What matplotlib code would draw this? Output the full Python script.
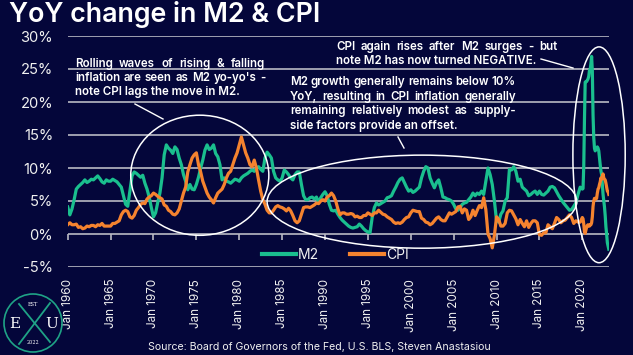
import numpy as np
import pandas as pd
import matplotlib
matplotlib.use("Agg")
import matplotlib.pyplot as plt
from matplotlib.patches import Ellipse
from matplotlib.lines import Line2D

# ---------------- data ----------------
quarter_start = "1960-01-01"
quarter_end = "2019-10-01"
month_start = "2020-01-01"
month_end = "2023-02-01"

m2_quarterly = [
    4.1, 2.9, 3.8, 5.2,   6.8, 7.2, 7.5, 7.8,   8.2, 7.8, 8.0, 8.3,   8.2, 8.5, 8.8, 8.4,
    7.9, 7.7, 8.2, 8.0,   8.0, 8.3, 8.1, 7.9,   7.5, 7.1, 5.8, 4.5,   4.2, 6.5, 8.8, 9.4,
    9.2, 8.9, 8.6, 8.9,   7.7, 6.8, 5.6, 4.0,   2.6, 3.2, 4.8, 6.2,   8.5, 12.0, 13.5, 13.0,
    12.7, 12.2, 13.2, 12.8,   11.5, 10.5, 9.0, 8.0,   6.7, 7.5, 6.8, 6.7,   7.5, 8.6, 10.0, 11.2,
    12.7, 13.5, 12.8, 13.0,   13.5, 12.2, 11.7, 10.5,   8.2, 8.5, 8.0, 7.9,   7.7, 8.0, 8.3, 8.2,
    8.0, 8.5, 8.8, 9.0,   9.2, 9.5, 9.7, 9.5,   10.0, 10.2, 9.8, 9.5,   11.5, 12.4, 12.0, 11.5,
    9.5, 8.5, 8.2, 8.0,   8.5, 9.7, 9.4, 9.0,   8.5, 8.2, 9.0, 9.4,   9.4, 7.5, 5.8, 5.2,
    5.2, 5.5, 5.6, 5.3,   5.6, 4.8, 5.5, 6.0,   6.4, 5.8, 4.5, 3.6,   3.5, 3.6, 3.0, 2.5,
    2.1, 1.8, 1.5, 1.2,   1.0, 0.9, 1.0, 1.1,   1.5, 1.2, 0.8, 0.5,   0.3, 0.2, 2.5, 4.0,
    4.7, 4.4, 4.6, 4.8,   5.0, 5.5, 5.6, 5.8,   6.5, 7.1, 7.8, 8.3,   8.5, 7.8, 7.1, 6.5,
    6.7, 6.3, 6.5, 6.8,   7.1, 8.5, 9.5, 10.2,   10.0, 8.5, 7.7, 7.0,   7.8, 8.2, 7.0, 5.6,
    5.5, 5.3, 5.2, 5.0,   4.5, 3.8, 3.6, 4.0,   4.5, 4.7, 4.8, 5.2,   5.6, 6.2, 5.8, 6.2,
    6.0, 6.5, 6.0, 8.0,   10.0, 9.0, 7.5, 5.0,   2.0, 1.8, 3.0, 3.5,   5.0, 5.5, 9.8, 9.7,
    10.2, 9.5, 8.0, 8.3,   7.1, 6.8, 6.5, 5.8,   6.0, 6.3, 6.5, 6.0,   6.5, 6.0, 5.9, 6.2,
    6.5, 7.1, 7.2, 7.0,   6.4, 5.8, 5.3, 4.8,   4.4, 4.0, 3.6, 3.7,   4.2, 4.7, 6.0, 7.1,
]
cpi_quarterly = [
    1.4, 1.7, 1.4, 1.4,   1.5, 1.0, 1.1, 0.8,   0.9, 1.2, 1.1, 1.3,   1.3, 1.1, 1.4, 1.3,
    1.6, 1.2, 1.2, 1.2,   1.2, 1.6, 1.6, 1.8,   2.0, 2.9, 3.4, 3.6,   3.4, 2.6, 2.4, 2.8,
    3.6, 4.0, 4.5, 4.7,   4.6, 5.3, 5.6, 5.8,   6.2, 6.0, 5.7, 5.5,   5.3, 4.4, 4.2, 3.6,
    3.4, 3.0, 2.9, 3.2,   3.8, 5.0, 6.2, 7.1,   9.4, 10.5, 11.5, 12.0,   12.3, 10.5, 9.4, 8.0,
    7.1, 6.2, 5.6, 5.2,   4.7, 5.5, 6.2, 6.5,   6.8, 7.5, 8.5, 9.2,   9.5, 10.5, 11.5, 12.3,
    13.5, 14.7, 13.5, 12.3,   11.5, 10.5, 10.2, 11.2,   10.0, 8.2, 6.5, 5.2,   4.5, 3.6, 3.2, 3.2,
    3.6, 4.1, 4.3, 4.1,   4.0, 3.8, 3.5, 3.9,   3.5, 2.8, 2.0, 1.7,   2.0, 3.0, 4.0, 4.1,
    4.1, 4.0, 4.2, 4.4,   4.7, 4.6, 5.0, 5.2,   5.0, 5.6, 5.8, 6.2,   5.8, 5.0, 3.8, 2.9,
    3.2, 3.2, 3.0, 3.0,   3.1, 3.0, 2.6, 2.7,   2.5, 2.5, 2.8, 2.8,   3.2, 3.0, 2.8, 3.2,
    3.2, 3.6, 3.3, 3.0,   2.9, 2.6, 2.4, 2.2,   1.8, 1.6, 1.7, 1.6,   1.8, 2.2, 2.5, 2.6,
    3.2, 3.6, 3.5, 3.4,   3.4, 2.4, 2.2, 1.8,   1.7, 1.4, 1.6, 2.0,   2.4, 2.6, 2.2, 2.0,
    2.0, 2.6, 3.2, 3.0,   3.2, 3.4, 4.1, 4.2,   3.2, 3.8, 3.6, 2.2,   2.6, 3.6, 2.8, 3.6,
    4.3, 4.0, 5.5, 3.7,   0.0, -0.7, -2.1, -0.2,   2.6, 2.2, 1.2, 1.2,   1.6, 3.2, 3.6, 3.5,
    2.9, 2.3, 1.4, 2.2,   1.6, 1.1, 2.0, 1.0,   1.6, 2.0, 2.0, 1.7,   -0.1, -0.2, 0.2, 0.2,
    1.4, 1.1, 0.8, 1.6,   2.5, 2.2, 1.7, 2.0,   2.1, 2.5, 2.9, 2.5,   1.6, 2.0, 1.8, 1.8,
]
m2_monthly = [
    6.8, 6.9, 10.3, 17.4, 23.0, 23.1, 23.1, 23.3, 23.5, 23.9, 24.8, 24.9,
    25.8, 26.9, 24.7, 18.0, 14.6, 13.0, 12.6, 12.8, 13.0, 13.2, 13.0, 12.6,
    11.5, 10.5, 9.6, 9.0, 7.5, 6.0, 5.0, 4.1, 2.8, 1.1, 0.0, -1.3,
    -1.8, -2.3,
]
cpi_monthly = [
    2.5, 2.3, 1.5, 0.3, 0.1, 0.6, 1.0, 1.3, 1.4, 1.2, 1.2, 1.4,
    1.4, 1.7, 2.6, 4.2, 5.0, 5.4, 5.4, 5.3, 5.4, 6.2, 6.8, 7.0,
    7.5, 7.9, 8.5, 8.3, 8.6, 9.1, 8.5, 8.3, 8.2, 7.7, 7.1, 6.5,
    6.4, 6.0,
]
tick_years = list(range(1960, 2021, 5))
tick_labels = [f"Jan {y}" for y in tick_years]
y_ticks = [-5, 0, 5, 10, 15, 20, 25, 30]
y_labels = [f"{v}%" for v in y_ticks]

title = "YoY change in M2 & CPI"
note1 = ["Rolling waves of rising & falling",
         "inflation are seen as M2 yo-yo's -",
         "note CPI lags the move in M2."]
note2 = ["M2 growth generally remains below 10%",
         "YoY, resulting in CPI inflation generally",
         "remaining relatively modest as supply-",
         "side factors provide an offset."]
note3 = ["CPI again rises after M2 surges - but",
         "note M2 has now turned NEGATIVE."]
source = "Source: Board of Governors of the Fed, U.S. BLS, Steven Anastasiou"

# ---------------- build series ----------------
dates = pd.date_range(quarter_start, quarter_end, freq="QS").append(
    pd.date_range(month_start, month_end, freq="MS"))
xdec = dates.year + (dates.month - 1) / 12.0
m2 = np.array(m2_quarterly + m2_monthly)
cpi = np.array(cpi_quarterly + cpi_monthly)

# ---------------- style ----------------
BG = "#04063a"
GREEN = "#1abf8e"
ORANGE = "#f5832f"
GRID = "#b9b9c4"
TXT = "#f0f0f0"
FONT = ["Inter", "DejaVu Sans"]
plt.rcParams["font.family"] = FONT

W, H = 633, 355
fig = plt.figure(figsize=(W / 100, H / 100), dpi=100, facecolor=BG)

def fx(px):
    return px / W

def fy(py):
    return 1 - py / H

ax = fig.add_axes([fx(67.7), fy(267), fx(609) - fx(67.7), fy(36) - fy(267)])
ax.set_facecolor(BG)
ax.set_xlim(1960.0, 2023.11)
ax.set_ylim(-5, 30)

ax.plot(xdec, m2, color=GREEN, lw=2.3, label="M2", zorder=3, solid_joinstyle="round")
ax.plot(xdec, cpi, color=ORANGE, lw=2.3, label="CPI", zorder=4, solid_joinstyle="round")

for s in ax.spines.values():
    s.set_visible(False)
ax.set_yticks(y_ticks)
ax.set_yticklabels(y_labels)
ax.tick_params(axis="y", length=0, pad=10.5, labelsize=10.6, labelcolor=TXT)
ax.yaxis.grid(True, color=GRID, lw=1.2)
ax.set_axisbelow(True)

ax.set_xticks(tick_years)
ax.set_xticklabels(tick_labels, rotation=90)
ax.tick_params(axis="x", length=0, pad=8.5, labelsize=8.4, labelcolor=TXT)

# ticks sitting on the 0% line
sec = ax.secondary_xaxis(location=(0 - (-5)) / 35.0)
sec.set_xticks(tick_years)
sec.tick_params(axis="x", direction="out", length=4, width=1.2, color=GRID, labelbottom=False)
for s in sec.spines.values():
    s.set_visible(False)

leg = ax.legend(loc="center", bbox_to_anchor=(0.495, 0.052), ncol=2, frameon=False,
                handlelength=2.45, handletextpad=0.15, columnspacing=2.25,
                fontsize=10, labelcolor=TXT)
for l in leg.get_lines():
    l.set_linewidth(3)

# ellipses (data coords)
ell_kw = dict(fill=False, edgecolor="white", lw=1.1, zorder=5, clip_on=False)
ax.add_patch(Ellipse((1975.4, 8.9), 16.1, 18.2, **ell_kw))
ax.add_patch(Ellipse((2001.3, 4.9), 36.1, 14.1, **ell_kw))
ax.add_patch(Ellipse((2021.95, 12.0), 6.1, 32.7, **ell_kw))

# pointer lines (figure pixels)
for (x0, y0, x1, y1) in [(135, 104, 163, 119), (398, 137, 404, 148), (541, 59, 573, 68)]:
    fig.add_artist(Line2D([fx(x0), fx(x1)], [fy(y0), fy(y1)], color="white", lw=1.0,
                          transform=fig.transFigure))

# title
fig.text(fx(9), fy(14), title, color="white", fontsize=19.3, fontweight="semibold",
         va="center", ha="left")

# justified annotations
renderer = fig.canvas.get_renderer()
note_kw = dict(color="white", fontsize=8.3, fontweight="semibold", va="baseline", ha="left")

def justified(lines, x0, x1, baselines):
    for i, (line, yb) in enumerate(zip(lines, baselines)):
        if i == len(lines) - 1:
            fig.text(fx(x0), fy(yb), line, **note_kw)
            continue
        words = line.split(" ")
        arts = [fig.text(0, fy(yb), w, **note_kw) for w in words]
        widths = [a.get_window_extent(renderer).width for a in arts]
        gap = ((x1 - x0) - sum(widths)) / max(len(words) - 1, 1)
        xc = x0
        for a, w in zip(arts, widths):
            a.set_x(fx(xc))
            xc += w + gap

justified(note1, 75, 265, [67, 81, 95])
justified(note2, 290, 516, [85, 99.5, 114, 128.5])
justified(note3, 336, 557, [50, 64])

# source
fig.text(fx(319), fy(347), source, color=TXT, fontsize=7.6, ha="center", va="center")

# logo
LG = "#1fa386"
cx, cy, r = 33, 323, 29
fig.add_artist(Ellipse((fx(cx), fy(cy)), 2 * r / W, 2 * r / H, fill=False, edgecolor=LG,
                       lw=1.2, transform=fig.transFigure))
fig.add_artist(Line2D([fx(19), fx(50)], [fy(344), fy(303)], color=LG, lw=1.3,
                      transform=fig.transFigure))
fig.add_artist(Line2D([fx(19), fx(50)], [fy(304), fy(342)], color=LG, lw=1.3,
                      transform=fig.transFigure))
serif = ["DejaVu Serif"]
fig.text(fx(15), fy(324), "E", color="white", fontsize=11, family=serif, ha="center", va="center")
fig.text(fx(52), fy(324), "U", color="white", fontsize=11, family=serif, ha="center", va="center")
fig.text(fx(33), fy(305), "EST", color="white", fontsize=3.5, family=serif, ha="center", va="center")
fig.text(fx(33), fy(342), "2022", color="white", fontsize=3.5, family=serif, ha="center", va="center")

fig.savefig("out.png", dpi=100, facecolor=BG)
